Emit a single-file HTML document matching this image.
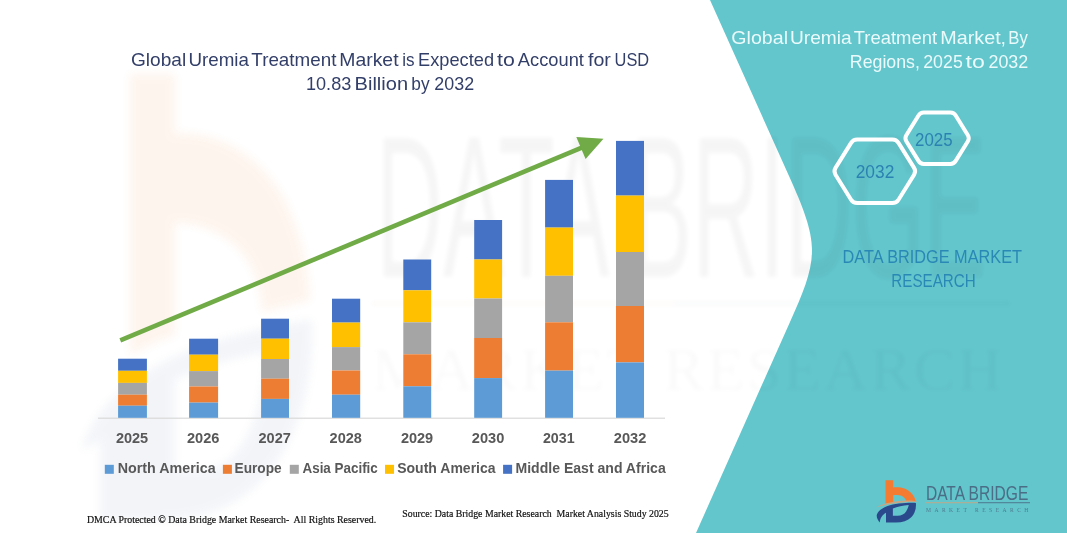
<!DOCTYPE html>
<html><head><meta charset="utf-8"><title>Global Uremia Treatment Market</title>
<style>
html,body{margin:0;padding:0;background:#fff;}
body{width:1067px;height:533px;overflow:hidden;font-family:"Liberation Sans",sans-serif;}
svg{display:block;}
text{font-family:"Liberation Sans",sans-serif;}
.serif text, text.serif{font-family:"Liberation Serif",serif;}
</style></head><body>
<svg width="1067" height="533" viewBox="0 0 1067 533">
<defs>
<filter id="soft" x="-5%" y="-5%" width="110%" height="110%"><feGaussianBlur stdDeviation="0.4"/></filter>
<filter id="b2"><feGaussianBlur stdDeviation="2"/></filter>
<filter id="b4"><feGaussianBlur stdDeviation="4"/></filter>
</defs>
<g filter="url(#soft)">
<rect x="-20" y="-20" width="1107" height="573" fill="#ffffff"/>

<!-- faint watermark logo (left) -->
<g filter="url(#b4)" opacity="0.085">
<path d="M130 74 H175 V133 C215 132 255 150 282 195 C298 225 308 260 310 300 C300 303 280 308 262 312 C260 280 250 255 225 238 C210 228 192 223 175 223 V335 C160 340 145 347 130 355 Z" fill="#F28A3C"/>
<path d="M82 450 C95 400 150 360 220 340 C255 330 290 322 312 320 C314 380 300 440 262 480 C235 508 200 520 160 520 H100 V440 C92 445 86 448 82 450 Z M175 380 V470 H200 C240 470 262 420 266 352 C230 358 200 368 175 380 Z" fill="#7D8FB8" fill-rule="evenodd"/>
</g>

<!-- teal panel -->
<path id="teal" d="M710 0 L789 176 C803 207 812 230 812 250 C812 272 803 293 790 322 L696 533 L687.1 553 L1090 553 L1090 -20 L701 -20 Z" fill="#63C6CC"/>

<!-- faint big watermark text -->
<g opacity="0.035" filter="url(#b2)">
<text x="376" y="277" font-size="203" textLength="610" lengthAdjust="spacingAndGlyphs" fill="#000" >DATA BRIDGE</text>
<rect x="372" y="302" width="302" height="3" fill="#E87722"/>
<rect x="674" y="302" width="336" height="3" fill="#1F3A68"/>
<text x="372" y="390" font-size="62" textLength="630" lengthAdjust="spacing" fill="#000" opacity="0.55" style="font-family:'Liberation Serif',serif">MARKET RESEARCH</text>
</g>

<!-- axis -->
<rect x="98" y="417.6" width="567" height="1.2" fill="#D9D9D9"/>
<!-- bars -->
<rect x="118.1" y="358.7" width="28.8" height="12.1" fill="#4472C4"/>
<rect x="118.1" y="370.8" width="28.8" height="12.1" fill="#FFC000"/>
<rect x="118.1" y="382.9" width="28.8" height="11.8" fill="#A5A5A5"/>
<rect x="118.1" y="394.7" width="28.8" height="11.0" fill="#ED7D31"/>
<rect x="118.1" y="405.7" width="28.8" height="12.1" fill="#5B9BD5"/>
<rect x="189.1" y="338.7" width="29.0" height="16.0" fill="#4472C4"/>
<rect x="189.1" y="354.7" width="29.0" height="16.4" fill="#FFC000"/>
<rect x="189.1" y="371.1" width="29.0" height="15.4" fill="#A5A5A5"/>
<rect x="189.1" y="386.5" width="29.0" height="16.1" fill="#ED7D31"/>
<rect x="189.1" y="402.6" width="29.0" height="15.2" fill="#5B9BD5"/>
<rect x="261.1" y="318.7" width="27.9" height="20.0" fill="#4472C4"/>
<rect x="261.1" y="338.7" width="27.9" height="20.3" fill="#FFC000"/>
<rect x="261.1" y="359.0" width="27.9" height="19.7" fill="#A5A5A5"/>
<rect x="261.1" y="378.7" width="27.9" height="20.2" fill="#ED7D31"/>
<rect x="261.1" y="398.9" width="27.9" height="18.9" fill="#5B9BD5"/>
<rect x="332.0" y="298.7" width="28.2" height="23.9" fill="#4472C4"/>
<rect x="332.0" y="322.6" width="28.2" height="24.5" fill="#FFC000"/>
<rect x="332.0" y="347.1" width="28.2" height="23.4" fill="#A5A5A5"/>
<rect x="332.0" y="370.5" width="28.2" height="24.2" fill="#ED7D31"/>
<rect x="332.0" y="394.7" width="28.2" height="23.1" fill="#5B9BD5"/>
<rect x="403.3" y="259.5" width="27.9" height="30.8" fill="#4472C4"/>
<rect x="403.3" y="290.3" width="27.9" height="32.0" fill="#FFC000"/>
<rect x="403.3" y="322.3" width="27.9" height="32.0" fill="#A5A5A5"/>
<rect x="403.3" y="354.3" width="27.9" height="32.0" fill="#ED7D31"/>
<rect x="403.3" y="386.3" width="27.9" height="31.5" fill="#5B9BD5"/>
<rect x="474.2" y="220.0" width="27.9" height="39.5" fill="#4472C4"/>
<rect x="474.2" y="259.5" width="27.9" height="39.0" fill="#FFC000"/>
<rect x="474.2" y="298.5" width="27.9" height="39.5" fill="#A5A5A5"/>
<rect x="474.2" y="338.0" width="27.9" height="40.1" fill="#ED7D31"/>
<rect x="474.2" y="378.1" width="27.9" height="39.7" fill="#5B9BD5"/>
<rect x="545.1" y="179.9" width="27.9" height="47.7" fill="#4472C4"/>
<rect x="545.1" y="227.6" width="27.9" height="48.2" fill="#FFC000"/>
<rect x="545.1" y="275.8" width="27.9" height="46.5" fill="#A5A5A5"/>
<rect x="545.1" y="322.3" width="27.9" height="48.3" fill="#ED7D31"/>
<rect x="545.1" y="370.6" width="27.9" height="47.2" fill="#5B9BD5"/>
<rect x="616.0" y="140.9" width="28.0" height="54.7" fill="#4472C4"/>
<rect x="616.0" y="195.6" width="28.0" height="56.4" fill="#FFC000"/>
<rect x="616.0" y="252.0" width="28.0" height="54.0" fill="#A5A5A5"/>
<rect x="616.0" y="306.0" width="28.0" height="56.4" fill="#ED7D31"/>
<rect x="616.0" y="362.4" width="28.0" height="55.4" fill="#5B9BD5"/>

<!-- arrow -->
<line x1="120.3" y1="340.4" x2="583" y2="147.2" stroke="#6FAB46" stroke-width="4.6"/>
<polygon points="603.5,138.7 576.3,137 585.6,159" fill="#6FAB46"/>

<!-- title -->
<g fill="#333F69" font-size="17.8">
<text x="130.98" y="66.2" textLength="55.18" lengthAdjust="spacingAndGlyphs">Global</text>
<text x="188.46" y="66.2" textLength="60.54" lengthAdjust="spacingAndGlyphs">Uremia</text>
<text x="251.36" y="66.2" textLength="85.02" lengthAdjust="spacingAndGlyphs">Treatment</text>
<text x="339.32" y="66.2" textLength="59.20" lengthAdjust="spacingAndGlyphs">Market</text>
<text x="402.22" y="66.2" textLength="12.30" lengthAdjust="spacingAndGlyphs">is</text>
<text x="418.08" y="66.2" textLength="75.96" lengthAdjust="spacingAndGlyphs">Expected</text>
<text x="496.98" y="66.2" textLength="17.80" lengthAdjust="spacingAndGlyphs">to</text>
<text x="517.86" y="66.2" textLength="66.02" lengthAdjust="spacingAndGlyphs">Account</text>
<text x="587.98" y="66.2" textLength="22.90" lengthAdjust="spacingAndGlyphs">for</text>
<text x="614.58" y="66.2" textLength="34.56" lengthAdjust="spacingAndGlyphs">USD</text>
<text x="305.96" y="90" textLength="45.32" lengthAdjust="spacingAndGlyphs">10.83</text>
<text x="354.58" y="90" textLength="53.46" lengthAdjust="spacingAndGlyphs">Billion</text>
<text x="411.34" y="90" textLength="18.30" lengthAdjust="spacingAndGlyphs">by</text>
<text x="434.36" y="90" textLength="39.80" lengthAdjust="spacingAndGlyphs">2032</text>
</g>

<!-- years -->
<g fill="#595959" font-size="14" font-weight="bold">
<text x="115.9" y="443.4" textLength="32.3" lengthAdjust="spacingAndGlyphs">2025</text>
<text x="187.0" y="443.4" textLength="32.5" lengthAdjust="spacingAndGlyphs">2026</text>
<text x="258.5" y="443.4" textLength="32.3" lengthAdjust="spacingAndGlyphs">2027</text>
<text x="329.6" y="443.4" textLength="32.3" lengthAdjust="spacingAndGlyphs">2028</text>
<text x="400.9" y="443.4" textLength="32.3" lengthAdjust="spacingAndGlyphs">2029</text>
<text x="471.8" y="443.4" textLength="32.5" lengthAdjust="spacingAndGlyphs">2030</text>
<text x="542.9" y="443.4" textLength="31.7" lengthAdjust="spacingAndGlyphs">2031</text>
<text x="613.8" y="443.4" textLength="32.5" lengthAdjust="spacingAndGlyphs">2032</text>
</g>
<!-- legend -->
<g fill="#595959" font-size="15" font-weight="bold">
<rect x="104.8" y="464.8" width="9" height="9" fill="#5B9BD5"/>
<text x="117.8" y="473.4" textLength="97.8" lengthAdjust="spacingAndGlyphs">North America</text>
<rect x="222.9" y="464.8" width="9" height="9" fill="#ED7D31"/>
<text x="234.5" y="473.4" textLength="47.2" lengthAdjust="spacingAndGlyphs">Europe</text>
<rect x="289.8" y="464.8" width="9" height="9" fill="#A5A5A5"/>
<text x="302.5" y="473.4" textLength="75.3" lengthAdjust="spacingAndGlyphs">Asia Pacific</text>
<rect x="385.0" y="464.8" width="9" height="9" fill="#FFC000"/>
<text x="397.2" y="473.4" textLength="98.4" lengthAdjust="spacingAndGlyphs">South America</text>
<rect x="503.1" y="464.8" width="9" height="9" fill="#4472C4"/>
<text x="515.5" y="473.4" textLength="150.2" lengthAdjust="spacingAndGlyphs">Middle East and Africa</text>
</g>

<!-- footers -->
<g class="serif" fill="#111" font-size="10.6" stroke="#111" stroke-width="0.2">
<text x="86.9" y="522.5" textLength="289.3" lengthAdjust="spacingAndGlyphs" xml:space="preserve">DMCA Protected © Data Bridge Market Research-  All Rights Reserved.</text>
<text x="402.3" y="517.4" textLength="266.4" lengthAdjust="spacingAndGlyphs" xml:space="preserve">Source: Data Bridge Market Research  Market Analysis Study 2025</text>
</g>

<!-- right panel text -->
<g fill="#EAFAFB" font-size="17.8">
<text x="731.34" y="44.1" textLength="56.70" lengthAdjust="spacingAndGlyphs">Global</text>
<text x="789.96" y="44.1" textLength="61.68" lengthAdjust="spacingAndGlyphs">Uremia</text>
<text x="853.74" y="44.1" textLength="83.40" lengthAdjust="spacingAndGlyphs">Treatment</text>
<text x="940.32" y="44.1" textLength="65.80" lengthAdjust="spacingAndGlyphs">Market,</text>
<text x="1008.25" y="44.1" textLength="19.51" lengthAdjust="spacingAndGlyphs">By</text>
<text x="849.84" y="68.1" textLength="70.09" lengthAdjust="spacingAndGlyphs">Regions,</text>
<text x="923.22" y="68.1" textLength="39.56" lengthAdjust="spacingAndGlyphs">2025</text>
<text x="965.60" y="68.1" textLength="19.32" lengthAdjust="spacingAndGlyphs">to</text>
<text x="988.48" y="68.1" textLength="39.80" lengthAdjust="spacingAndGlyphs">2032</text>
</g>

<!-- hexagons -->
<g fill="none" stroke="#ffffff" stroke-width="4" stroke-linejoin="round">
<path d="M906.3 141.2 Q904.5 138.2 906.3 135.2 L918.5 115.5 Q920.3 112.5 923.8 112.5 L950.4 112.5 Q953.9 112.5 955.7 115.5 L967.9 135.2 Q969.7 138.2 967.9 141.2 L955.7 160.9 Q953.9 163.9 950.4 163.9 L923.8 163.9 Q920.3 163.9 918.5 160.9 Z"/>
<path d="M835.5 174.7 Q833.4 171.3 835.5 167.9 L851.1 142.9 Q853.2 139.5 857.2 139.5 L892.4 139.5 Q896.4 139.5 898.5 142.9 L914.1 167.9 Q916.2 171.3 914.1 174.7 L898.5 199.7 Q896.4 203.1 892.4 203.1 L857.2 203.1 Q853.2 203.1 851.1 199.7 Z"/>
</g>
<g fill="#2B82B2" font-size="18">
<text x="915" y="146" textLength="37.6" lengthAdjust="spacingAndGlyphs">2025</text>
<text x="855.7" y="178.1" textLength="38.6" lengthAdjust="spacingAndGlyphs">2032</text>
</g>
<g fill="#2B88B6" font-size="17.7">
<text x="842.5" y="262.8" textLength="179.5" lengthAdjust="spacingAndGlyphs">DATA BRIDGE MARKET</text>
<text x="891.3" y="287" textLength="84.5" lengthAdjust="spacingAndGlyphs">RESEARCH</text>
</g>

<!-- logo bottom right -->
<g id="logo">
<path d="M885.5 480.2 H893.2 V487.4 C897 486.8 901 487.2 904.5 488.6 C910.5 491 914.8 496 915.9 501.9 C911 501.2 908 501 906.1 501 C905.5 498.8 904 496.8 901.5 495.8 C899 494.8 896 494.8 893.2 495.2 V502.6 C890.5 503 888 503.5 885.5 504.1 Z" fill="#F47C30"/>
<path d="M876.7 515.3 C877.6 511.6 881.5 508.2 887.5 506 C894.5 503.8 905 502.6 915.9 502.9 C916.4 508.5 914.8 513.6 911.3 517.3 C907.8 520.8 902.5 522.5 895.8 522.5 H886 V512.7 C882.6 514.6 880 518.2 879.8 522.5 C878 520.5 876.6 518 876.7 515.3 Z M892.9 508.6 V515.8 H897.5 C901.5 515.8 904.5 514 906.2 511.2 C907.4 509.4 908.3 507.2 908.7 505 C903 505.4 897.5 506.8 892.9 508.6 Z" fill="#2C4A8C" fill-rule="evenodd"/>
<path d="M876 507.2 C884 503 896 500.6 906 500.4 C910.5 500.3 915 500.8 918.8 501.8 C912 501.7 905 502 898 502.9 C890 503.9 882.5 505.3 876 507.2 Z" fill="#C8A684"/>
<text x="925.9" y="499.7" font-size="20.4" textLength="102.4" lengthAdjust="spacingAndGlyphs" fill="#4B6E86">DATA BRIDGE</text>
<rect x="925" y="502.3" width="53" height="0.9" fill="#C8A684"/>
<rect x="978" y="502.3" width="52" height="0.9" fill="#4B6E86"/>
<text x="926" y="511.6" font-size="5.6" textLength="102.4" lengthAdjust="spacing" fill="#4B6E86" opacity="0.85" style="font-family:'Liberation Serif',serif" xml:space="preserve">MARKET RESEARCH</text>
</g>
</g>
</svg>
</body></html>
